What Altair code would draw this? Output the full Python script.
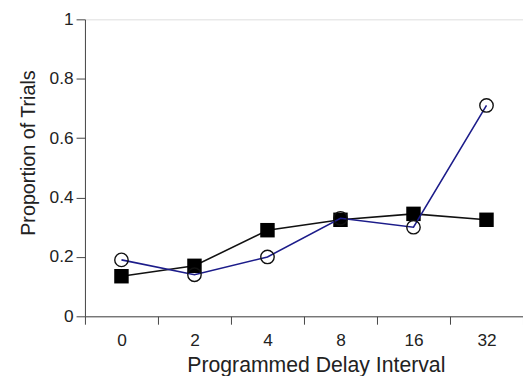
import altair as alt
import pandas as pd

delays = ["0", "2", "4", "8", "16", "32"]
circles = [0.19, 0.14, 0.20, 0.33, 0.30, 0.71]
squares = [0.135, 0.17, 0.29, 0.325, 0.345, 0.325]

df = pd.DataFrame({
    "delay": delays * 2,
    "value": circles + squares,
    "series": ["circle"] * len(delays) + ["square"] * len(delays),
})

FONT = "Liberation Sans"
AX = "#444444"
TXT = "#222222"

x_enc = alt.X(
    "delay:O",
    sort=delays,
    bandPosition=0.5,
    scale=alt.Scale(type="band", domain=delays, paddingInner=0, paddingOuter=0),
    axis=alt.Axis(
        title="Programmed Delay Interval",
        labelAngle=0,
        tickBand="extent",
        tickSize=8,
        labelPadding=8,
        labelFontSize=17.5,
        titleFontSize=21.5,
        titlePadding=5,
        titleX=234,
        labelColor=TXT,
        titleColor=TXT,
        domainColor=AX,
        tickColor=AX,
        labelFont=FONT,
        titleFont=FONT,
        titleFontWeight="normal",
    ),
)
y_enc = alt.Y(
    "value:Q",
    scale=alt.Scale(domain=[0, 1], nice=False),
    axis=alt.Axis(
        title="Proportion of Trials",
        values=[0, 0.2, 0.4, 0.6, 0.8, 1],
        format="~g",
        tickSize=9,
        labelPadding=3,
        labelFontSize=17.5,
        titleFontSize=20,
        titlePadding=11,
        titleY=135,
        labelColor=TXT,
        titleColor=TXT,
        domainColor=AX,
        tickColor=AX,
        grid=False,
        labelFont=FONT,
        titleFont=FONT,
        titleFontWeight="normal",
    ),
)

base = alt.Chart(df)

sq = base.transform_filter(alt.datum.series == "square")
ci = base.transform_filter(alt.datum.series == "circle")

sq_line = sq.mark_line(color="#111111", strokeWidth=1.6).encode(x=x_enc, y=y_enc)
sq_pts = sq.mark_point(shape="square", filled=True, color="#000000", size=215, opacity=1).encode(x=x_enc, y=y_enc)
ci_line = ci.mark_line(color="#1c1c8a", strokeWidth=1.6).encode(x=x_enc, y=y_enc)
ci_pts = ci.mark_point(shape="circle", filled=False, color="#111111", size=185, strokeWidth=1.4, opacity=1).encode(x=x_enc, y=y_enc)

chart = alt.layer(sq_line, sq_pts, ci_line, ci_pts).properties(
    width=444,
    height=301,
    autosize=alt.AutoSizeParams(type="none"),
    padding={"left": 78, "top": 9, "right": 0, "bottom": 58},
).configure_view(stroke=None).configure(background="white")

chart.save("out.html", embed_options={"renderer": "svg", "actions": False})
